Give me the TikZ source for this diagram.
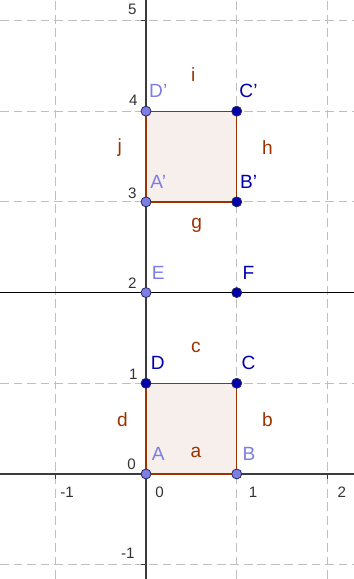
\documentclass[tikz,border=0pt]{standalone}
\usepackage{fontspec}
\setmainfont{Liberation Sans}
\definecolor{ptlight}{RGB}{125,125,230}
\definecolor{ptdark}{RGB}{0,0,175}
\definecolor{ptline}{RGB}{40,40,95}
\definecolor{brn}{RGB}{153,51,0}
\definecolor{axis}{RGB}{60,60,60}
\tikzset{
	gridline/.style={black!25,line width=0.5pt,dash pattern=on 5.5pt off 3pt},
	face/.style={draw=brn,line width=0.8pt,fill=brn!8},
	ldot/.style={circle,inner sep=0pt,minimum size=2.2mm,draw=ptline,line width=0.5pt,fill=ptlight,label={[text=ptlight,xshift=2.7mm,yshift=4.4mm]center:#1}},
	bdot/.style={circle,inner sep=0pt,minimum size=2.2mm,draw=ptline,line width=0.5pt,fill=ptdark,label={[text=ptdark,xshift=2.6mm,yshift=4.4mm]center:#1}},
	seg/.style={text=brn,font=\fontsize{12}{14}\selectfont},
	tick/.style={font=\fontsize{9.5}{11}\selectfont,text=black!80}
}
\begin{document}
\begin{tikzpicture}[x=2cm,y=2cm,font=\fontsize{12}{14}\selectfont]
						\useasboundingbox (-1.61,-1.158) rectangle (2.293,5.226);
						% grid
						\draw[gridline] (-1,-1.158) -- (-1,5.226) (1,-1.158) -- (1,5.226) (2,-1.158) -- (2,5.226);
						\draw[gridline] (-1.61,-1) -- (2.293,-1) (-1.61,1) -- (2.293,1) (-1.61,3) -- (2.293,3)
							(-1.61,4) -- (2.293,4) (-1.61,5) -- (2.293,5);

						\coordinate (A) at (0,0);
						\coordinate (B) at (1,0);
						\coordinate (C) at (1,1);
						\coordinate (D) at (0,1);
						\coordinate (Ap) at (0,3);
						\coordinate (Bp) at (1,3);
						\coordinate (Cp) at (1,4);
						\coordinate (Dp) at (0,4);
						\coordinate (E) at (0,2);
						\coordinate (F) at (1,2);
						\coordinate (xl) at (-1.61,0);
						\coordinate (xr) at (2.293,0);
						\coordinate (yb) at (0,-1.158);
						\coordinate (yt) at (0,5.226);
						\coordinate (el) at (-1.61,2);
						\coordinate (er) at (2.293,2);

						% axes
						\draw[axis,line width=0.9pt] (xl) -- (xr);
						\draw[axis,line width=0.9pt] (yb) -- (yt);
						\draw[axis,line width=0.8pt] (0,5) -- (-0.06,5) (0,-1) -- (-0.06,-1) (-1,0) -- (-1,-0.06) (2,0) -- (2,-0.06);

						\node[tick] (y5) at (-0.15,5.12) {5};
						\node[tick] (y4) at (-0.14,4.12) {4};
						\node[tick] (y3) at (-0.15,3.10) {3};
						\node[tick] (y2) at (-0.15,2.10) {2};
						\node[tick] (y1) at (-0.14,1.10) {1};
						\node[tick] (y0) at (-0.16,0.11) {0};
						\node[tick] (ym1) at (-0.20,-0.87) {-1};
						\node[tick] (xm1) at (-0.87,-0.20) {-1};
						\node[tick] (x0) at (0.15,-0.20) {0};
						\node[tick] (x1) at (1.18,-0.20) {1};
						\node[tick] (x2) at (2.16,-0.20) {2};

						% line through E and F
						\draw[black,line width=0.9pt] (el) -- (E) -- (F) -- (er);

						% squares
						\draw[face] (A) -- (B) -- (C) -- (D) -- cycle;
						\draw[face] (Ap) -- (Bp) -- (Cp) -- (Dp) -- cycle;

						\node[seg] (a) at (0.55,0.24) {a};
						\node[seg] (b) at (1.34,0.60) {b};
						\node[seg] (c) at (0.55,1.40) {c};
						\node[seg] (d) at (-0.26,0.60) {d};
						\node[seg] (g) at (0.56,2.74) {g};
						\node[seg] (h) at (1.34,3.60) {h};
						\node[seg] (i) at (0.52,4.40) {i};
						\node[seg] (j) at (-0.29,3.60) {j};

						\node [ldot={A}] (pA) at (A) {};
						\node [ldot={B}] (pB) at (B) {};
						\node [bdot={C}] (pC) at (C) {};
						\node [bdot={D}] (pD) at (D) {};
						\node [ldot={A'}] (pAp) at (Ap) {};
						\node [bdot={B'}] (pBp) at (Bp) {};
						\node [bdot={C'}] (pCp) at (Cp) {};
						\node [ldot={D'}] (pDp) at (Dp) {};
						\node [ldot={E}] (pE) at (E) {};
						\node [bdot={F}] (pF) at (F) {};
					\end{tikzpicture}
\end{document}
